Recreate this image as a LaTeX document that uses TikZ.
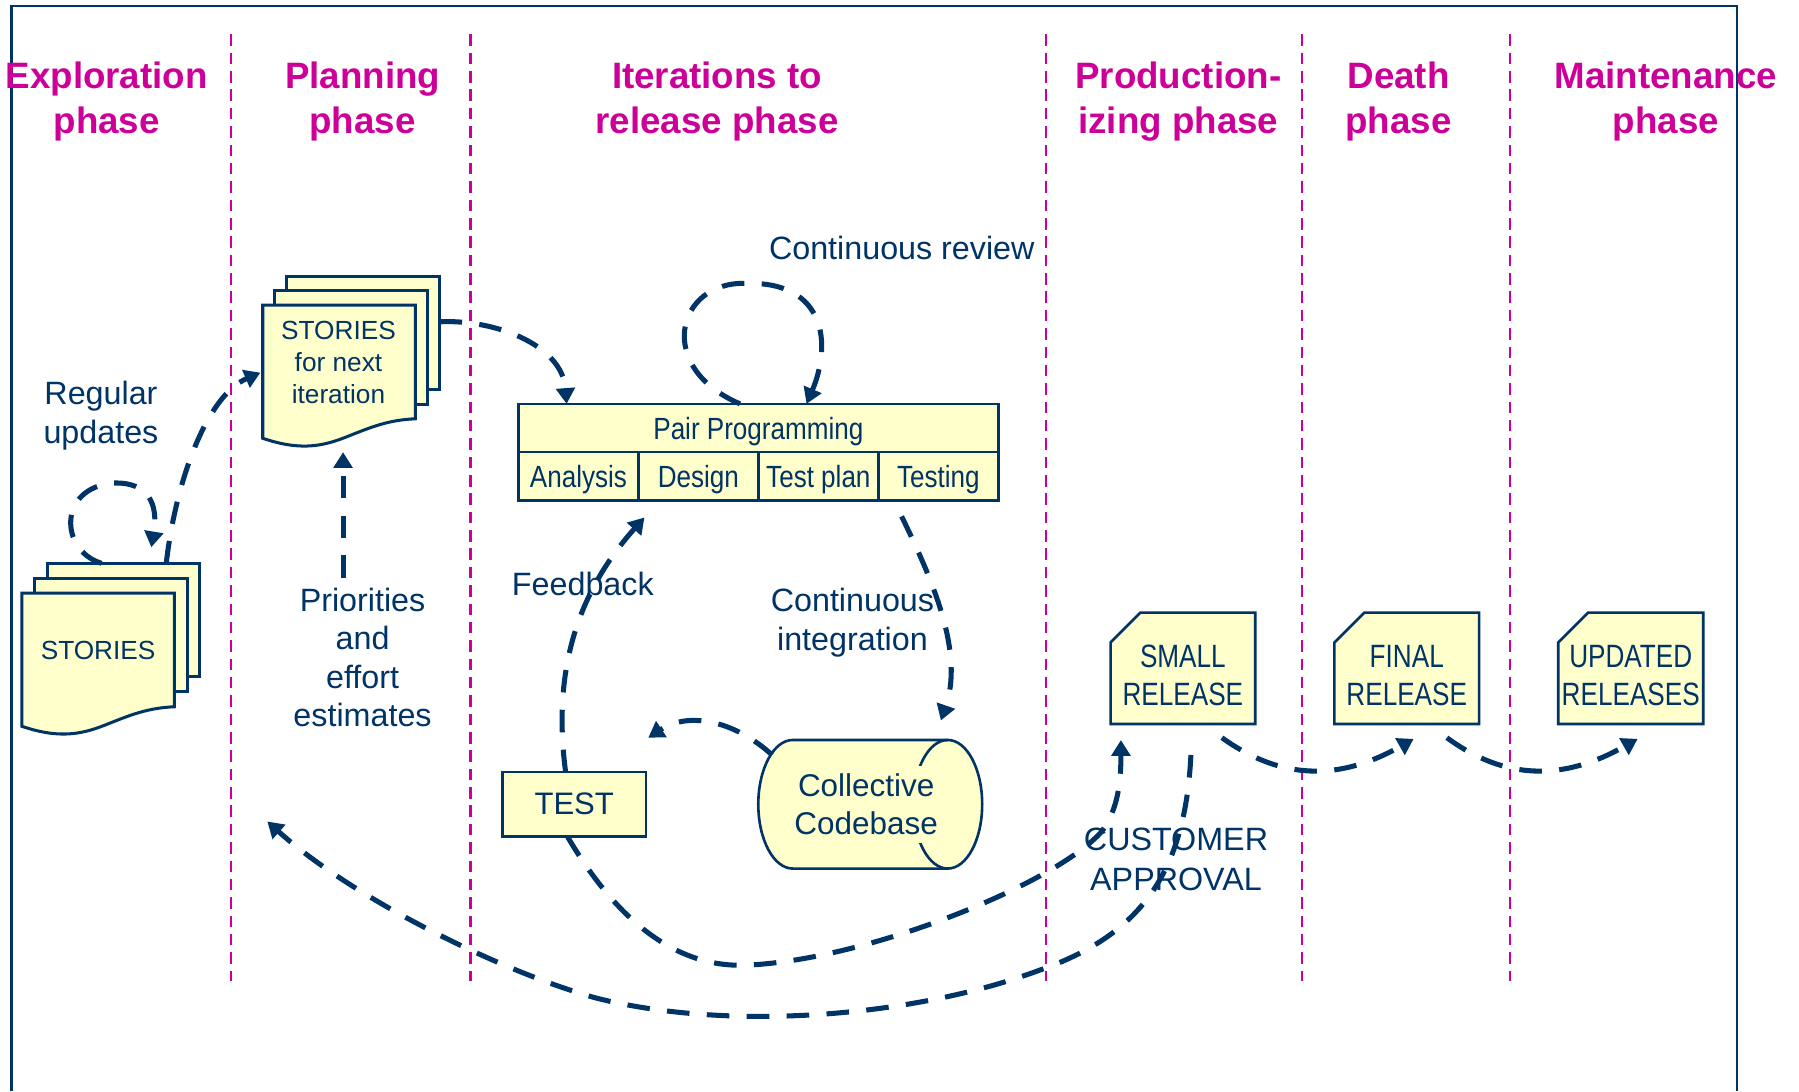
\documentclass[tikz,border=0pt]{standalone}
\usepackage{fontspec}
\setmainfont{Liberation Sans}
\newfontfamily\narrowfont[FakeStretch=0.85]{Liberation Sans}
\newfontfamily\releasefont[FakeStretch=0.81]{Liberation Sans}
\usepackage{tikz}
\usetikzlibrary{arrows.meta,calc,positioning,shapes.misc}

\definecolor{navy}{HTML}{003366}
\definecolor{phasepink}{HTML}{CC0099}
\definecolor{noteyellow}{HTML}{FFFFCC}

\tikzset{
  phase/.style={text=phasepink, font=\bfseries\fontsize{9.1}{11.1}\selectfont, align=center, inner sep=0pt},
  lbl/.style={text=navy, font=\fontsize{8}{9.7}\selectfont, align=center, inner sep=0pt},
  doctext/.style={text=navy, font=\fontsize{6.5}{8}\selectfont, align=center, inner sep=0pt},
  sep/.style={phasepink, line width=0.55pt, dash pattern=on 2.85pt off 1.7pt},
  frame/.style={navy, line width=0.6pt},
  flow/.style={navy, line width=1.25pt, dash pattern=on 5.6pt off 4.3pt,
    -{Triangle[length=3.9pt,width=4.6pt]}},
  box/.style={draw=navy, fill=noteyellow, line width=0.65pt, text=navy,
    inner sep=0pt, outer sep=0pt},
  cell/.style={box, minimum width=1.045cm, minimum height=0.42cm, text depth=0pt,
    font=\narrowfont\fontsize{7.6}{9}\selectfont},
  release/.style={box, chamfered rectangle, chamfered rectangle corners=north west,
    chamfered rectangle xsep=0.13cm, chamfered rectangle ysep=0.13cm, inner xsep=-0.1cm,
    minimum width=1.26cm, minimum height=0.97cm, align=center,
    font=\releasefont\fontsize{8}{9.4}\selectfont},
  page/.style={draw=navy, fill=noteyellow, line width=0.75pt},
  canedge/.style={draw=navy, fill=noteyellow, line width=0.65pt},
  capend/.style={x radius=0.3cm, y radius=0.56cm},
  stackarea/.style={inner sep=0pt, outer sep=0pt},
  docpage/.pic={
    \draw[page] (0,0) -- (133,0) -- (133,99)
      .. controls (110,100) and (95,106) .. (75,114)
      .. controls (55,122) and (35,128) .. (0,116) -- cycle;
  }
}

\begin{document}
\begin{tikzpicture}[x=0.01cm, y=-0.01cm]
    \useasboundingbox (0,0) rectangle (1568,951);

    % Frame and phase borders
    \draw[frame] (10,951) -- (10,5) -- (1514,5) -- (1514,951);
    \foreach \x in {201,410,912,1135,1316} {
        \draw[sep] (\x,30) -- (\x,855);
    }

    % Phase titles
    \node[phase] (explore) at (93,88.5) {Exploration\\phase};
    \node[phase] (planning) at (316,88.5) {Planning\\phase};
    \node[phase] (iterations) at (625,88.5) {Iterations to\\release phase};
    \node[phase] (production) at (1027,88.5) {Production-\\izing phase};
    \node[phase] (death) at (1219,88.5) {Death\\phase};
    \node[phase] (maintenance) at (1452,88.5) {Maintenance\\phase};

    % Story stacks
    \foreach \d in {2,1} {
        \draw[page] ({19+11*\d},{517-13*\d}) rectangle +(133,99);
        \draw[page] ({229+10.5*\d},{266-12.7*\d}) rectangle +(133,99);
    }
    \pic at (19,517) {docpage};
    \pic at (229,266) {docpage};
    \node[stackarea, minimum width=1.545cm, minimum height=1.5cm] (storyStack) at (96.2,566) {};
    \node[stackarea, minimum width=1.53cm, minimum height=1.485cm] (nextStack) at (305.5,314.8) {};
    \node[doctext] (stories) at (85.5,567) {STORIES};
    \node[doctext] (nextStories) at (295,316) {STORIES\\for next\\iteration};

    % Iteration boxes
    \node[cell, minimum width=4.18cm] (pair) at (661,373) {Pair Programming};
    \node[cell, anchor=north west] (analysis) at (pair.south west) {Analysis};
    \node[cell, right=0pt of analysis] (design) {Design};
    \node[cell, right=0pt of design] (testplan) {Test plan};
    \node[cell, right=0pt of testplan] (testing) {Testing};
    \node[box, minimum width=1.25cm, minimum height=0.56cm,
          font=\fontsize{7.7}{9}\selectfont] (test) at (500.5,701) {TEST};

    % Codebase drum
    \node[stackarea, minimum width=1.95cm, minimum height=1.12cm] (code) at (758.5,701) {};
    \draw[canedge] ($(code.north west)+(30,0)$) arc[start angle=90, end angle=270, capend]
        -- ($(code.south east)+(-30,0)$) arc[start angle=-90, end angle=90, capend] -- cycle;
    \draw[canedge, fill=none] ($(code.north east)+(-30,0)$) arc[start angle=90, end angle=270, capend];
    \node[fill=noteyellow, text=navy, inner xsep=0.05cm, inner ysep=0.07cm, align=center,
          font=\fontsize{7.8}{9.4}\selectfont] (codeText) at (755,701) {Collective\\Codebase};

    % Releases
    \node[release] (small) at (1031,582.5) {\rule{0pt}{9.2pt}SMALL\\RELEASE};
    \node[release, right=0.69cm of small] (final) {\rule{0pt}{9.2pt}FINAL\\RELEASE};
    \node[release, right=0.69cm of final] (updated) {\rule{0pt}{9.2pt}UPDATED\\RELEASES};

    % Labels
    \node[lbl] (regular) at (88,362) {Regular\\updates};
    \node[lbl, font=\fontsize{8}{9.5}\selectfont] (prio) at (316,573) {Priorities\\and\\effort\\estimates};
    \node[lbl] (review) at (786,216) {Continuous review};
    \node[lbl] (feedback) at (508,509) {Feedback};
    \node[lbl] (integration) at (743,543) {Continuous\\integration};
    \node[lbl] (approval) at (1025,749) {CUSTOMER\\APPROVAL};

    % Flows
    \coordinate (planBack) at (233,716);
    \draw[flow] ($(storyStack.north west)+(69.6,0)$) .. controls (52,480) and (50,425) .. (99,421)
        .. controls (130,420) and (138,440) .. ($(storyStack.north west)+(113,-14)$);
    \draw[flow] ($(storyStack.north west)+(126,0)$) .. controls (153,420) and (180,345) .. ($(nextStack.west)+(-2,10)$);
    \draw[flow] ([xshift=-0.17cm,yshift=0.08cm]prio.north) -- ([xshift=-0.17cm,yshift=-0.05cm]prio.north |- nextStack.south);
    \draw[flow] ($(nextStack.north east)+(1,40)$) .. controls (430,278) and (490,300) .. ($(pair.north west)+(42,0)$);
    \draw[flow] ($(pair.north)+(-16,0)$) .. controls (570,320) and (590,245) .. (650,247)
        .. controls (720,245) and (725,300) .. ($(pair.north)+(42,0)$);
    \draw[flow] ($(test.north)+(-7.5,0)$) .. controls (482,590) and (500,520) .. ($(design.south)+(-47,15)$);
    \draw[flow] ($(testing.south)+(-32,14)$) .. controls (815,510) and (840,570) .. ($(code.north east)+(-36,-17)$);
    \draw[flow] ($(code.west)+(12,-43)$) .. controls (640,628) and (600,620) .. ($(test.north east)+(2,-30)$);
    \draw[flow] ($(test.south)+(-6,0)$) .. controls (545,815) and (600,845) .. (655,841)
        .. controls (760,835) and (920,770) .. (960,725)
        .. controls (975,705) and (977,680) .. ($(small.south)+(-54,14)$);
    \draw[flow] ($(small.south)+(7,27)$) .. controls (1033,760) and (995,815) .. (905,846)
        .. controls (800,885) and (640,900) .. (520,870)
        .. controls (440,848) and (310,785) .. (planBack);
    \draw[flow] ($(small.south)+(34,12)$) .. controls (1110,675) and (1160,685) .. ($(final.south)+(6,13)$);
    \draw[flow] ($(final.south)+(35,12)$) .. controls (1305,675) and (1355,685) .. ($(updated.south)+(6,13)$);
\end{tikzpicture}
\end{document}
